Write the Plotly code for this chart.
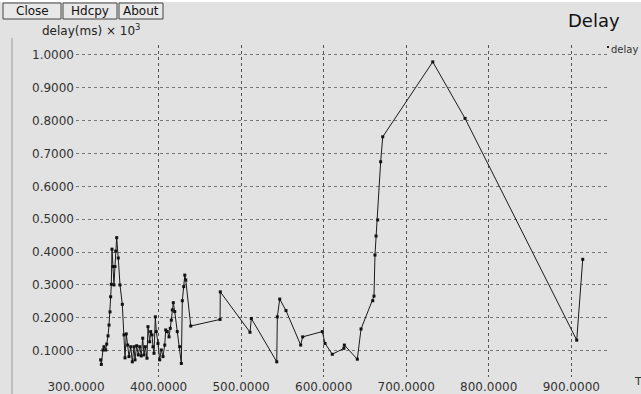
import plotly.graph_objects as go

time_s = [329.9, 330.7, 332.7, 333.9, 336.0, 337.2, 338.8, 340.0, 341.2, 342.0, 342.8, 343.6,
          344.8, 346.0, 347.2, 348.1, 349.3, 351.2, 353.3, 356.1, 358.2, 359.4, 360.9, 362.6,
          364.2, 366.3, 368.2, 370.3, 371.5, 373.5, 375.5, 377.2, 379.1, 380.8, 382.4, 384.0,
          386.0, 387.2, 389.3, 390.5, 392.1, 393.3, 394.5, 396.1, 397.3, 399.3, 401.4, 403.3,
          405.4, 407.5, 408.7, 410.6, 412.7, 414.2, 415.5, 416.7, 417.9, 419.6, 422.7, 425.6,
          427.6, 428.8, 430.5, 431.8, 433.0, 439.0, 474.5, 474.8, 510.8, 512.4, 543.2, 543.9,
          546.8, 554.4, 572.2, 574.6, 598.4, 601.7, 610.5, 624.5, 625.1, 640.8, 645.3, 659.5,
          661.0, 662.2, 663.5, 665.5, 669.1, 671.6, 732.2, 771.3, 906.6, 913.9]
delay_k = [0.072, 0.058, 0.102, 0.112, 0.102, 0.120, 0.145, 0.178, 0.218, 0.264, 0.302, 0.409,
           0.356, 0.300, 0.356, 0.403, 0.444, 0.382, 0.300, 0.241, 0.148, 0.078, 0.151, 0.117,
           0.082, 0.112, 0.066, 0.112, 0.072, 0.115, 0.087, 0.112, 0.084, 0.138, 0.087, 0.112,
           0.077, 0.173, 0.127, 0.158, 0.148, 0.112, 0.092, 0.203, 0.158, 0.122, 0.072, 0.102,
           0.082, 0.117, 0.163, 0.158, 0.142, 0.168, 0.193, 0.224, 0.246, 0.219, 0.158, 0.112,
           0.061, 0.252, 0.295, 0.330, 0.315, 0.175, 0.195, 0.279, 0.156, 0.198, 0.066, 0.203,
           0.257, 0.222, 0.117, 0.142, 0.158, 0.122, 0.089, 0.107, 0.117, 0.074, 0.166, 0.252,
           0.266, 0.391, 0.449, 0.498, 0.675, 0.751, 0.979, 0.807, 0.132, 0.378]

x_ticks = [300, 400, 500, 600, 700, 800, 900]
y_ticks = [0.1, 0.2, 0.3, 0.4, 0.5, 0.6, 0.7, 0.8, 0.9, 1.0]

BG = "#e2e2e2"
FONT = "DejaVu Sans"

fig = go.Figure()
fig.add_trace(go.Scatter(
    x=time_s, y=delay_k, mode="lines+markers",
    line=dict(color="#1a1a1a", width=1),
    marker=dict(symbol="square", size=3, color="#111111"),
    showlegend=False,
))

L, R, T, B = 76, 33, 45, 17
W, H = 641, 394
pw = W - L - R
ph = H - T - B

def px(xp):
    return (xp - L) / pw

def ypap(yp):
    return 1 - (yp - T) / ph

fig.update_layout(
    width=W, height=H,
    margin=dict(l=L, r=R, t=T, b=B, autoexpand=False),
    paper_bgcolor=BG, plot_bgcolor=BG,
    font=dict(family=FONT, size=12, color="#333333"),
    xaxis=dict(range=[300, 944.5], tickvals=x_ticks, tickformat=".4f", automargin=False,
               showgrid=True, gridcolor="#555555", griddash="dot", gridwidth=1,
               zeroline=False, showline=False, ticks="", ticklabelstandoff=1,
               tickfont=dict(family=FONT, size=12, color="#333333")),
    yaxis=dict(range=[0.0198, 1.0304], tickvals=y_ticks, tickformat=".4f", automargin=False,
               showgrid=True, gridcolor="#777777", griddash="dot", gridwidth=1,
               zeroline=False, showline=False, ticks="", ticklabelstandoff=1,
               tickfont=dict(family=FONT, size=12, color="#333333")),
)

# top white band and left frame line
fig.add_shape(type="rect", xref="paper", yref="paper", x0=px(0), x1=px(W),
              y0=ypap(2), y1=ypap(0),
              fillcolor="#ffffff", line_width=0, layer="below")
fig.add_shape(type="line", xref="paper", yref="paper", x0=px(12), x1=px(12),
              y0=ypap(H), y1=ypap(38),
              line=dict(color="#999999", width=1))

# buttons
for label, x0, x1 in [("Close", 3, 61), ("Hdcpy", 63, 117), ("About", 119, 163)]:
    fig.add_shape(type="rect", xref="paper", yref="paper", x0=px(x0), x1=px(x1),
                  y0=ypap(19), y1=ypap(3), fillcolor="#e8e8e8",
                  line=dict(color="#444444", width=1))
    fig.add_annotation(text=label, xref="paper", yref="paper", x=px((x0 + x1) / 2),
                       y=ypap(11), showarrow=False, xanchor="center", yanchor="middle",
                       font=dict(family=FONT, size=12, color="#111111"))

fig.add_annotation(text="delay(ms) × 10<sup>3</sup>", xref="paper", yref="paper",
                   x=px(40), y=ypap(30), xanchor="left", yanchor="middle", showarrow=False,
                   font=dict(family=FONT, size=12, color="#222222"))
fig.add_annotation(text="Delay", xref="paper", yref="paper",
                   x=px(622), y=ypap(21), xanchor="right", yanchor="middle", showarrow=False,
                   font=dict(family=FONT, size=18, color="#111111"))
fig.add_annotation(text="delay", xref="paper", yref="paper",
                   x=px(609), y=ypap(50), xanchor="left", yanchor="middle", showarrow=False,
                   font=dict(family=FONT, size=10, color="#333333"))
fig.add_shape(type="rect", xref="paper", yref="paper", x0=px(607), x1=px(609),
              y0=ypap(48), y1=ypap(46), fillcolor="#222222", line_width=0)
fig.add_annotation(text="T", xref="paper", yref="paper",
                   x=px(632), y=ypap(381), xanchor="left", yanchor="middle", showarrow=False,
                   font=dict(family=FONT, size=11, color="#333333"))

fig.write_html("out.html")
